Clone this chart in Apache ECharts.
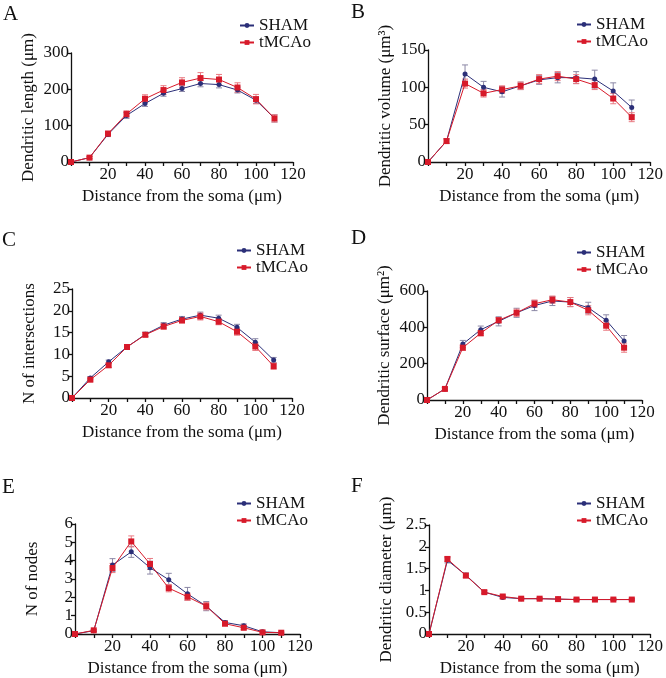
<!DOCTYPE html>
<html>
<head>
<meta charset="utf-8">
<script src="https://cdn.jsdelivr.net/npm/echarts@6/dist/echarts.min.js"></script>
<style>html,body{margin:0;padding:0;background:#fff}#c{width:666px;height:678px}</style>
</head>
<body>
<div id="c"></div>
<script>
// ---- data ----
const distances = [0, 10, 20, 30, 40, 50, 60, 70, 80, 90, 100, 110];
const xTicks = [20, 40, 60, 80, 100, 120];

const lengthSham = [0, 12, 76, 128, 161, 189, 202, 216, 213, 198, 170, 120];
const lengthShamErr = [0, 3, 6, 8, 8, 8, 8, 9, 9, 8, 9, 10];
const lengthTm = [0, 12, 78, 132, 174, 198, 219, 231, 227, 205, 173, 120];
const lengthTmErr = [0, 3, 7, 9, 11, 12, 13, 15, 14, 13, 13, 10];

const volumeSham = [0, 28, 118, 100, 94, 102, 110, 113, 113, 111, 95, 73];
const volumeShamErr = [0, 3, 12, 8, 7, 5, 6, 7, 8, 12, 11, 10];
const volumeTm = [0, 28, 105, 92, 97, 102, 111, 115, 111, 103, 85, 60];
const volumeTmErr = [0, 3, 6, 5, 5, 5, 6, 6, 6, 6, 7, 6];

const interSham = [0, 4.6, 8.3, 11.7, 14.6, 16.7, 18.1, 19.0, 18.3, 16.2, 12.8, 8.7];
const interShamErr = [0, 0.3, 0.4, 0.4, 0.5, 0.6, 0.6, 0.7, 0.7, 0.7, 0.8, 0.6];
const interTm = [0, 4.2, 7.5, 11.7, 14.5, 16.4, 17.8, 18.7, 17.5, 15.2, 11.8, 7.3];
const interTmErr = [0, 0.3, 0.5, 0.4, 0.5, 0.6, 0.6, 0.8, 0.7, 0.8, 0.9, 0.7];

const surfaceSham = [0, 61, 308, 387, 433, 480, 520, 545, 539, 508, 439, 325];
const surfaceShamErr = [0, 8, 20, 20, 25, 25, 28, 25, 25, 30, 30, 30];
const surfaceTm = [0, 61, 288, 368, 439, 480, 530, 552, 539, 494, 409, 288];
const surfaceTmErr = [0, 8, 15, 15, 15, 20, 20, 20, 25, 25, 25, 25];

const nodesSham = [0, 0.18, 3.76, 4.48, 3.62, 2.96, 2.19, 1.52, 0.63, 0.45, 0.12, 0.07];
const nodesShamErr = [0, 0.05, 0.35, 0.3, 0.35, 0.35, 0.35, 0.25, 0.1, 0.1, 0.05, 0.03];
const nodesTm = [0, 0.2, 3.6, 5.05, 3.82, 2.5, 2.03, 1.52, 0.56, 0.34, 0.09, 0.07];
const nodesTmErr = [0, 0.05, 0.25, 0.3, 0.3, 0.2, 0.2, 0.2, 0.1, 0.1, 0.05, 0.03];

const diamSham = [0, 1.69, 1.35, 0.96, 0.84, 0.81, 0.81, 0.80, 0.79, 0.79, 0.79, 0.79];
const diamShamErr = [0, 0.06, 0.05, 0.03, 0.03, 0.02, 0.02, 0.02, 0.02, 0.02, 0.02, 0.02];
const diamTm = [0, 1.72, 1.34, 0.96, 0.86, 0.81, 0.81, 0.80, 0.79, 0.79, 0.79, 0.79];
const diamTmErr = [0, 0.06, 0.05, 0.03, 0.03, 0.02, 0.02, 0.02, 0.02, 0.02, 0.02, 0.02];

const panelLetters = ['A', 'B', 'C', 'D', 'E', 'F'];
const yTitles = ['Dendritic length (\u03bcm)', 'Dendritic volume (\u03bcm\u00b3)', 'N of intersections',
  'Dendritic surface (\u03bcm\u00b2)', 'N of nodes', 'Dendritic diameter (\u03bcm)'];
const yMax = [300, 150, 25, 600, 6, 2.5];
const yInterval = [100, 50, 5, 200, 1, 0.5];
const xTitle = 'Distance from the soma (\u03bcm)';
const seriesNames = ['SHAM', 'tMCAo'];

// ---- layout ----
const FONT = 'Liberation Serif';
const grids = [
  {left: 71, top: 53, width: 222, height: 109},
  {left: 428, top: 50, width: 225, height: 112},
  {left: 72, top: 289, width: 220, height: 109},
  {left: 427, top: 291, width: 215, height: 109},
  {left: 75, top: 524, width: 225, height: 111},
  {left: 429, top: 525, width: 222, height: 113}
];
const letterPos = [[3, 4], [351, 2], [2, 230], [351, 228], [2, 477], [351, 476]];
const legendPos = [[239, 17], [576, 16], [236, 242], [576, 244], [236, 495], [576, 495]];

const panels = [
  [lengthSham, lengthShamErr, lengthTm, lengthTmErr],
  [volumeSham, volumeShamErr, volumeTm, volumeTmErr],
  [interSham, interShamErr, interTm, interTmErr],
  [surfaceSham, surfaceShamErr, surfaceTm, surfaceTmErr],
  [nodesSham, nodesShamErr, nodesTm, nodesTmErr],
  [diamSham, diamShamErr, diamTm, diamTmErr]
];

const SHAM_C = '#2b2f78', TM_C = '#d71a2a';
const SHAM_E = '#8c88a6', TM_E = '#e97a82';

function errRender(params, api) {
  const x = api.value(0), lo = api.value(1), hi = api.value(2);
  const a = api.coord([x, lo]), b = api.coord([x, hi]);
  const c = api.visual('color');
  const w = 3;
  const st = {stroke: c, lineWidth: 1};
  return {type: 'group', children: [
    {type: 'line', shape: {x1: a[0], y1: a[1], x2: b[0], y2: b[1]}, style: st},
    {type: 'line', shape: {x1: b[0] - w, y1: b[1], x2: b[0] + w, y2: b[1]}, style: st},
    {type: 'line', shape: {x1: a[0] - w, y1: a[1], x2: a[0] + w, y2: a[1]}, style: st}
  ]};
}

const axisLine = {show: true, lineStyle: {color: '#111', width: 1.3}};
const xAxes = [], yAxes = [], series = [], legends = [], graphics = [];
grids.forEach((g, i) => {
  xAxes.push({
    type: 'value', gridIndex: i, min: 0, max: 120, interval: 10,
    name: xTitle, nameLocation: 'middle', nameGap: 26,
    nameTextStyle: {fontFamily: FONT, fontSize: 17, color: '#111'},
    axisLine: axisLine, splitLine: {show: false},
    axisTick: {show: true, length: 4, lineStyle: {color: '#111', width: 1.3}},
    axisLabel: {fontFamily: FONT, fontSize: 17, color: '#111', margin: 4,
      formatter: v => (xTicks.indexOf(v) >= 0 ? String(v) : '')}
  });
  yAxes.push({
    type: 'value', gridIndex: i, min: 0, max: yMax[i], interval: yInterval[i],
    name: yTitles[i], nameLocation: 'middle', nameGap: 34,
    nameTextStyle: {fontFamily: FONT, fontSize: 17, color: '#111'},
    axisLine: axisLine, splitLine: {show: false},
    axisTick: {show: true, length: 4, lineStyle: {color: '#111', width: 1.3}},
    axisLabel: {fontFamily: FONT, fontSize: 17, color: '#111', margin: 2}
  });
  const p = panels[i];
  [[p[0], p[1], SHAM_E, 'errS' + i], [p[2], p[3], TM_E, 'errT' + i]].forEach(e => {
    series.push({
      type: 'custom', name: e[3], xAxisIndex: i, yAxisIndex: i, z: 1,
      itemStyle: {color: e[2]}, renderItem: errRender,
      encode: {x: 0, y: [1, 2]},
      data: distances.map((d, k) => [d, e[0][k] - e[1][k], e[0][k] + e[1][k]]),
      silent: true
    });
  });
  series.push({
    type: 'line', name: 'SHAM', xAxisIndex: i, yAxisIndex: i, z: 3,
    symbol: 'circle', symbolSize: 5, color: SHAM_C,
    lineStyle: {width: 1, color: SHAM_C}, itemStyle: {color: SHAM_C},
    data: distances.map((d, k) => [d, p[0][k]])
  });
  series.push({
    type: 'line', name: 'tMCAo', xAxisIndex: i, yAxisIndex: i, z: 4,
    symbol: 'rect', symbolSize: 6, color: TM_C,
    lineStyle: {width: 1, color: TM_C}, itemStyle: {color: TM_C},
    data: distances.map((d, k) => [d, p[2][k]])
  });
  legends.push({
    data: seriesNames, orient: 'vertical', left: legendPos[i][0], top: legendPos[i][1],
    itemWidth: 14, itemHeight: 6, itemGap: 0, padding: 0,
    textStyle: {fontFamily: FONT, fontSize: 17, color: '#111', lineHeight: 17}
  });
  graphics.push({
    type: 'text', left: letterPos[i][0], top: letterPos[i][1],
    style: {text: panelLetters[i], font: '21px "Liberation Serif"', fill: '#111'}
  });
});

const chart = echarts.init(document.getElementById('c'));
chart.setOption({
  animation: false,
  backgroundColor: '#fff',
  grid: grids,
  xAxis: xAxes,
  yAxis: yAxes,
  legend: legends,
  graphic: graphics,
  series: series
});
</script>
</body>
</html>
